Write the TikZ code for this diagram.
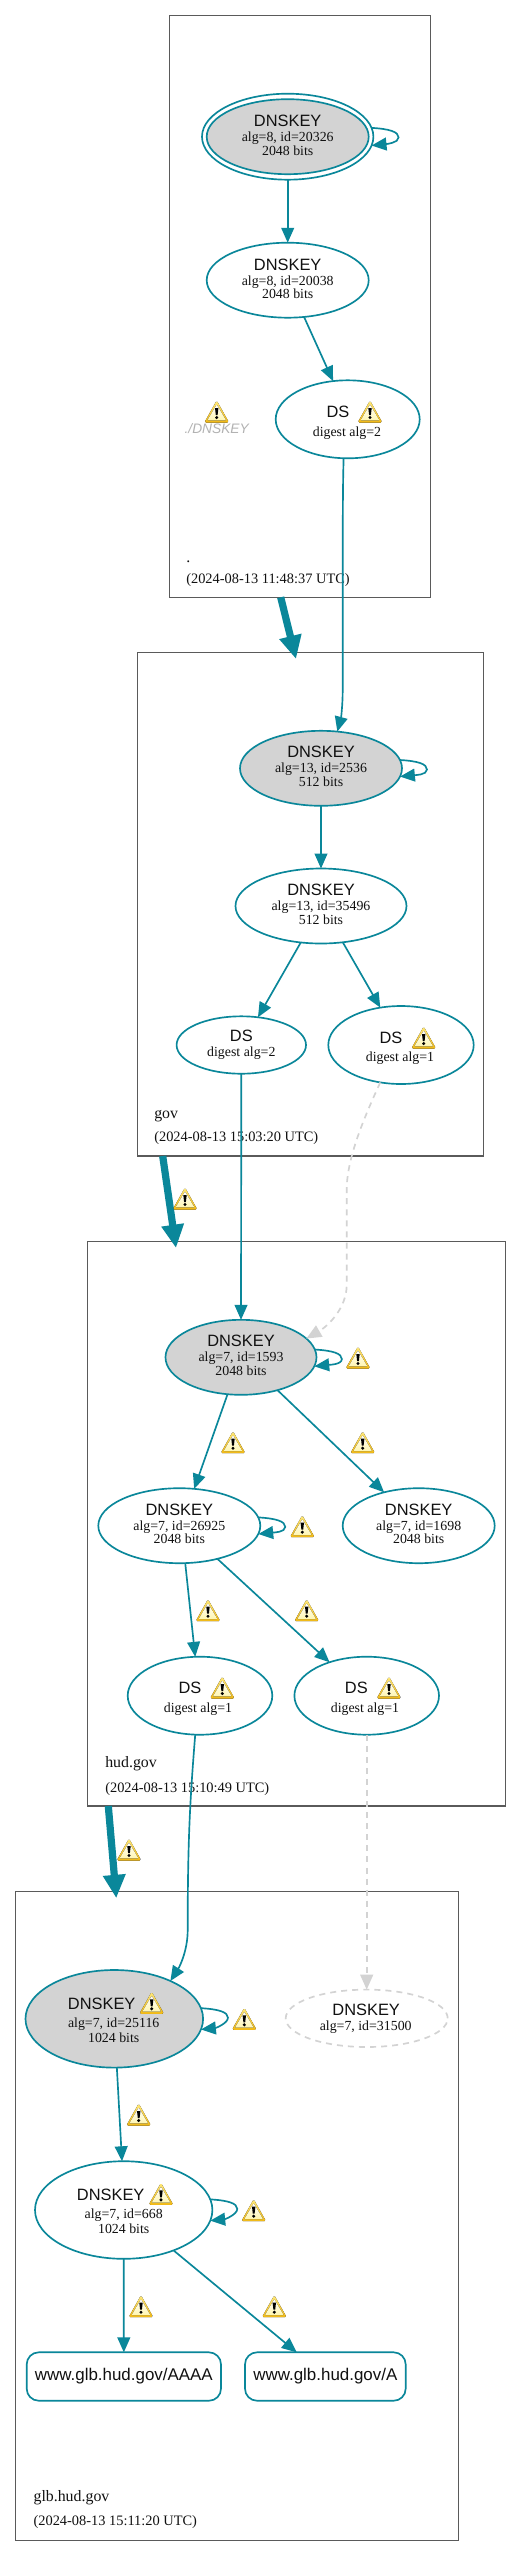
\documentclass[tikz,border=0pt]{standalone}
\usepackage{fontspec}
\setmainfont{Liberation Serif}
\setsansfont{Liberation Sans}
\usetikzlibrary{arrows.meta,shapes.geometric,calc}
\definecolor{dteal}{HTML}{0A879A}
\definecolor{keygray}{HTML}{D3D3D3}
\definecolor{boxgray}{HTML}{5A5A5A}
\definecolor{inkblack}{HTML}{111111}
\definecolor{warntop}{HTML}{FFE97A}
\definecolor{warnbot}{HTML}{F0B814}
\definecolor{warnin}{HTML}{FFF6B0}
\newlength{\pxu}\setlength{\pxu}{0.75pt}
% text line placed inside a node: x offset, baseline offset (in px), text
\newcommand\linetxt[3]{\raisebox{-#2\pxu}[0pt][0pt]{\makebox[0pt][c]{\hspace*{#1\pxu}\hspace*{#1\pxu}#3}}}
\newcommand\nh[3]{\linetxt{#1}{#2}{\sffamily\fontsize{12.3pt}{14pt}\selectfont #3}}
\newcommand\nt[3]{\linetxt{#1}{#2}{\rmfamily\fontsize{10.4pt}{12pt}\selectfont #3}}
\tikzset{
  x=0.75pt,y=-0.75pt,
  rad/.style 2 args={minimum width=#1*1.5pt,minimum height=#2*1.5pt},
  keynode/.style={ellipse,draw=dteal,line width=1.25pt,inner sep=0pt,outer sep=0pt,text=inkblack},
  signing/.style={keynode,fill=keygray},
  ghost/.style={ellipse,draw=keygray,line width=1.25pt,inner sep=0pt,outer sep=0pt,text=inkblack,dash pattern=on 4.5pt off 3.8pt},
  rrset/.style={rectangle,rounded corners=9pt,draw=dteal,line width=1.25pt,inner sep=0pt,outer sep=0pt,
    text=inkblack,font=\sffamily\fontsize{12.7pt}{14pt}\selectfont},
  zone/.style={rectangle,draw=boxgray,line width=0.8pt,inner sep=0pt,outer sep=0pt},
  zonename/.style={anchor=base west,inner sep=0pt,text=inkblack,font=\rmfamily\fontsize{11.9pt}{14pt}\selectfont},
  zonedate/.style={anchor=base west,inner sep=0pt,text=inkblack,font=\rmfamily\fontsize{10.8pt}{12pt}\selectfont},
  edge/.style={draw=dteal,line width=1.25pt,-{Triangle[length=11.2pt,width=9.6pt]}},
  faded/.style={draw=keygray,line width=1.25pt,dash pattern=on 4.5pt off 3.8pt,-{Triangle[length=11.2pt,width=9.6pt]}},
  delegation/.style={draw=dteal,line width=5.4pt,-{Triangle[length=17.5pt,width=16pt]}},
  warn/.pic={
    \fill[rounded corners=1.2pt,top color=warntop,bottom color=warnbot]
      (0,-11.5) -- (12.3,10.5) -- (-12.3,10.5) -- cycle;
    \fill[rounded corners=0.5pt,top color=white,bottom color=warnin] (0,-7.5) -- (9.4,8.3) -- (-9.4,8.3) -- cycle;
    \fill[black] (-1.7,-4) -- (1.7,-4) -- (0.9,3) -- (-0.9,3) -- cycle;
    \fill[black] (0,5.5) circle[radius=1.7];
  }
}
\newcommand\selfloop[2]{\draw[edge] (#1) .. controls ([shift={(18,1)}]#1) and ([shift={(27,4)}]#1) .. ([shift={(27,9.5)}]#1)
  .. controls ([shift={(27,15)}]#1) and ([shift={(15,-1.5)}]#2) .. (#2);}
\begin{document}
\begin{tikzpicture}
\path[use as bounding box,fill=white] (0,0) rectangle (521,2556);

% zones
\node[zone,minimum width=196.05pt,minimum height=436.2pt] (zone1) at (300,306.5) {};
\node[zone,minimum width=259.5pt,minimum height=377.8pt] (zone2) at (310.3,904.15) {};
\node[zone,minimum width=313.5pt,minimum height=423.5pt] (zone3) at (296.7,1523.65) {};
\node[zone,minimum width=332pt,minimum height=486.2pt] (zone4) at (237,2216) {};

\node[zonename] (z1name) at (186,562) {.};
\node[zonedate] (z1date) at (186,583) {(2024-08-13 11:48:37 UTC)};
\node[zonename] (z2name) at (154,1118) {gov};
\node[zonedate] (z2date) at (154,1141.5) {(2024-08-13 15:03:20 UTC)};
\node[zonename] (z3name) at (105,1767) {hud.gov};
\node[zonedate] (z3date) at (105,1792.5) {(2024-08-13 15:10:49 UTC)};
\node[zonename] (z4name) at (33.3,2501) {glb.hud.gov};
\node[zonedate] (z4date) at (33.3,2525.5) {(2024-08-13 15:11:20 UTC)};

% zone 1
\node[keynode,rad={85.7}{43}] (n1o) at (287.7,136.7) {};
\node[signing,rad={81}{37.5}] (n1) at (287.7,136.7) {\nh{0}{-9.8}{DNSKEY}\nt{0}{4.7}{alg=8, id=20326}\nt{0}{18.7}{2048 bits}};
\node[keynode,rad={81}{37.5}] (n2) at (287.7,280.2) {\nh{0}{-9.3}{DNSKEY}\nt{0}{5.3}{alg=8, id=20038}\nt{0}{18.7}{2048 bits}};
\node[keynode,rad={72}{39}] (ds1) at (347.7,419.3) {\nh{-9.7}{-1.4}{DS}\nt{-0.7}{17.4}{digest alg=2}};
\node[inner sep=0pt,text=black!30,font=\sffamily\itshape\fontsize{10.3pt}{12pt}\selectfont] (nsec) at (216.7,429) {./DNSKEY};

% zone 2
\node[signing,rad={81}{37.5}] (k21) at (321,768.3) {\nh{0}{-10.4}{DNSKEY}\nt{0}{4.1}{alg=13, id=2536}\nt{0}{18.1}{512 bits}};
\node[keynode,rad={85.5}{37.5}] (k22) at (321,906) {\nh{0}{-10.1}{DNSKEY}\nt{0}{4.4}{alg=13, id=35496}\nt{0}{18.4}{512 bits}};
\node[keynode,rad={64.7}{28.7}] (dsg) at (241.3,1045) {\nh{0}{-3.1}{DS}\nt{0}{11.7}{digest alg=2}};
\node[keynode,rad={72.7}{39}] (dsr) at (401,1045) {\nh{-10}{-1.1}{DS}\nt{-1}{16.7}{digest alg=1}};

% zone 3
\node[signing,rad={75.5}{37.5}] (k31) at (241,1357.3) {\nh{0}{-10.4}{DNSKEY}\nt{0}{4.1}{alg=7, id=1593}\nt{0}{18.1}{2048 bits}};
\node[keynode,rad={81}{37.5}] (k32) at (179.3,1525.7) {\nh{0}{-9.8}{DNSKEY}\nt{0}{4.7}{alg=7, id=26925}\nt{0}{17.7}{2048 bits}};
\node[keynode,rad={76}{37.5}] (k33) at (418.7,1525.7) {\nh{0}{-9.8}{DNSKEY}\nt{0}{4.7}{alg=7, id=1698}\nt{0}{17.7}{2048 bits}};
\node[keynode,rad={72.3}{39}] (ds31) at (200,1695.7) {\nh{-10}{-1.8}{DS}\nt{-2}{17}{digest alg=1}};
\node[keynode,rad={72.3}{39}] (ds32) at (366.7,1695.7) {\nh{-10.4}{-1.8}{DS}\nt{-1.7}{17}{digest alg=1}};

% zone 4
\node[signing,rad={88.8}{48.8}] (k41) at (114.3,2018.8) {\nh{-12.6}{-9.6}{DNSKEY}\nt{-0.6}{8.2}{alg=7, id=25116}\nt{-0.6}{23.9}{1024 bits}};
\node[ghost,rad={81}{28.7}] (kd) at (366.7,2018.3) {\nh{-0.5}{-2.4}{DNSKEY}\nt{-1}{12.1}{alg=7, id=31500}};
\node[keynode,rad={88.7}{48.8}] (k42) at (123.7,2210) {\nh{-13}{-9.8}{DNSKEY}\nt{0}{8}{alg=7, id=668}\nt{0}{23.4}{1024 bits}};
\node[rrset,minimum width=145.7pt,minimum height=36.3pt] (rA4) at (123.85,2376.5) {www.glb.hud.gov/AAAA};
\node[rrset,minimum width=120.5pt,minimum height=36.3pt] (rA) at (325.35,2376.5) {www.glb.hud.gov/A};

% delegations
\draw[delegation] ([shift={(111.4,0)}]zone1.south west) -- ([shift={(158.7,6.7)}]zone2.north west);
\draw[delegation] ([shift={(25.4,0)}]zone2.south west) -- ([shift={(88.3,6.7)}]zone3.north west);
\draw[delegation] ([shift={(20.6,0)}]zone3.south west) -- ([shift={(100.6,6.3)}]zone4.north west);

% edges
\selfloop{n1o.6.6}{n1o.-6.8}
\draw[edge] (n1o.south) -- (n2.north);
\draw[edge] (n2.-66) -- (ds1.111.7);
\draw[edge] (ds1.-96.5) .. controls (342.7,490) and (342.7,520) .. (342.7,660) -- (342.7,690) .. controls (342.7,705) and (341,718) .. (k21.66.2);
\selfloop{k21.6.4}{k21.-6.4}
\draw[edge] (k21.south) -- (k22.north);
\draw[edge] (k22.-119.4) -- (dsg.59.4);
\draw[edge] (k22.-59.6) -- (dsr.119);
\draw[edge] (dsg.south) -- (k31.north);
\draw[faded] (dsr.-119) .. controls (362,1122) and (346.7,1160) .. (346.7,1190) -- (346.7,1285) .. controls (346.7,1308) and (328,1326) .. (k31.16.4);
\selfloop{k31.6.9}{k31.-7.3}
\draw[edge] (k31.-110) -- (k32.68.2);
\draw[edge] (k31.-42.6) -- (k33.136);
\selfloop{k32.6}{k32.-6.7}
\draw[edge] (k32.-81.8) -- (ds31.97.3);
\draw[edge] (k32.-41.8) -- (ds32.138);
\draw[edge] (ds31.-97.7) .. controls (190,1800) and (187.7,1840) .. (187.7,1930) .. controls (187.7,1950) and (180,1966) .. (k41.34.9);
\draw[faded] (ds32.south) -- (kd.north);
\selfloop{k41.7.1}{k41.-7.9}
\draw[edge] (k41.-87.2) -- (k42.92.9);
\selfloop{k42.7.2}{k42.-7.8}
\draw[edge] (k42.south) -- (rA4.north);
\draw[edge] (k42.-39.5) -- ([shift={(-28.65,0)}]rA.north);

% warning icons
\foreach \wx/\wy in {216.7/412,370/412,
  423.7/1038,185/1199,
  358/1358,233/1442.7,362.7/1442.7,302.3/1526.7,208/1610.7,306.7/1610.7,222.3/1688,389/1688,
  129/1850,151.7/2003.3,244.3/2019.3,138.7/2115,161/2194.3,253.7/2210.7,141/2306.7,274.3/2306.7}
  \pic at (\wx,\wy) {warn};
\end{tikzpicture}
\end{document}
